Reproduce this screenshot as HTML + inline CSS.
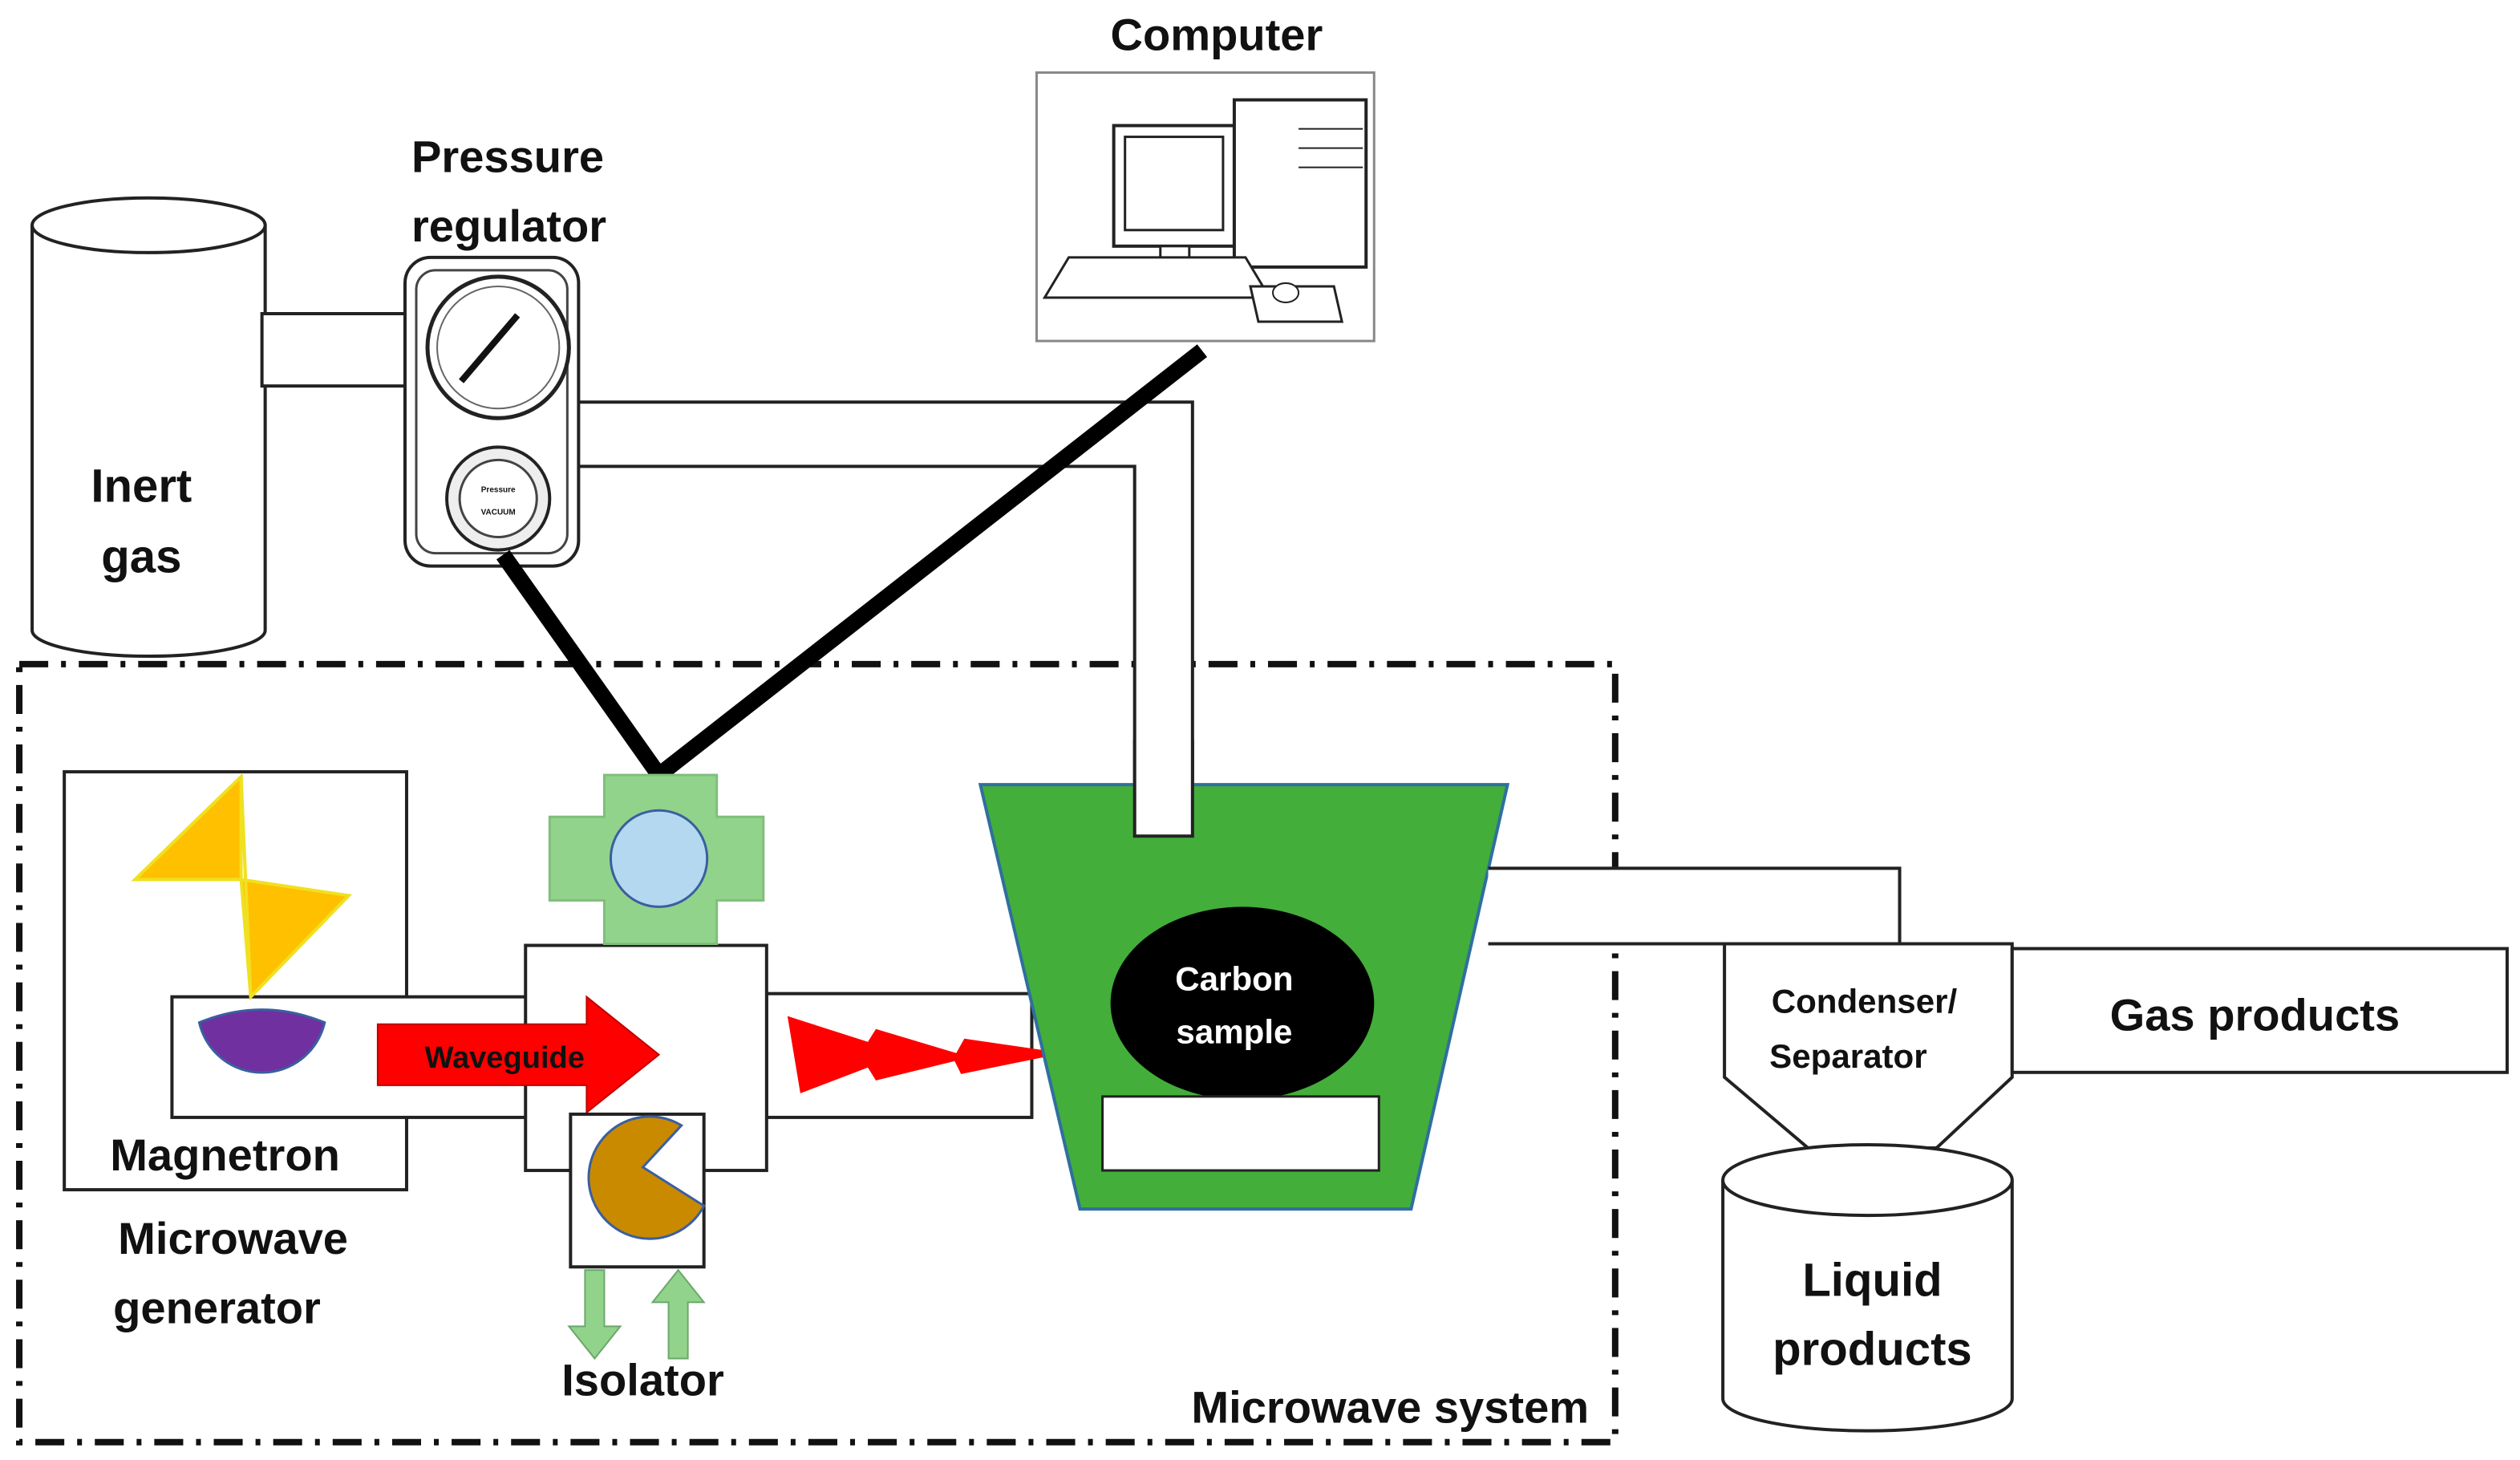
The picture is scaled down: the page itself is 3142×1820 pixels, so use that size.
<!DOCTYPE html>
<html><head><meta charset="utf-8"><style>
html,body{margin:0;padding:0;background:#fff;}
svg{display:block;}
text{font-family:"Liberation Sans",sans-serif;font-weight:bold;fill:#111;}
</style></head><body>
<svg width="3142" height="1820" viewBox="0 0 1568 908" xmlns="http://www.w3.org/2000/svg">
<rect x="12" y="413" width="993" height="484" fill="none" stroke="#111" stroke-width="4" stroke-dasharray="18,8,3,8"/>

<path d="M20,140 L20,392 A72,16 0 0 0 165,392 L165,140" fill="#fff" stroke="#222" stroke-width="2"/>
<ellipse cx="92.5" cy="140" rx="72.5" ry="17" fill="#fff" stroke="#222" stroke-width="2"/>
<text x="88" y="312" font-size="29" text-anchor="middle">Inert</text>
<text x="88" y="356" font-size="29" text-anchor="middle">gas</text>
<rect x="163" y="195" width="92" height="45" fill="#fff" stroke="#222" stroke-width="2"/>

<path d="M358,250 L742,250 L742,520 L706,520 L706,290 L358,290 Z" fill="#fff" stroke="#222" stroke-width="2"/>

<rect x="252" y="160" width="108" height="192" rx="16" fill="#fff" stroke="#222" stroke-width="2"/>
<rect x="259" y="168" width="94" height="176" rx="12" fill="none" stroke="#444" stroke-width="1.5"/>
<circle cx="310" cy="216" r="44" fill="#fff" stroke="#222" stroke-width="2.5"/>
<circle cx="310" cy="216" r="38" fill="none" stroke="#666" stroke-width="1"/>
<line x1="287" y1="237" x2="322" y2="196" stroke="#111" stroke-width="4"/>
<circle cx="310" cy="310" r="32" fill="#eee" stroke="#222" stroke-width="2"/>
<circle cx="310" cy="310" r="24" fill="#fff" stroke="#444" stroke-width="1.5"/>
<text x="310" y="306" font-size="5" text-anchor="middle" font-weight="normal">Pressure</text>
<text x="310" y="320" font-size="5" text-anchor="middle" font-weight="normal">VACUUM</text>
<text x="256" y="107" font-size="28">Pressure</text>
<text x="256" y="150" font-size="28">regulator</text>

<rect x="645" y="45" width="210" height="167" fill="#fff" stroke="#888" stroke-width="1.5"/>
<text x="757" y="31" font-size="28" text-anchor="middle">Computer</text>
<rect x="693" y="78" width="75" height="75" fill="#fff" stroke="#222" stroke-width="2"/>
<rect x="700" y="85" width="61" height="58" fill="#fff" stroke="#222" stroke-width="1.5"/>
<rect x="722" y="153" width="18" height="10" fill="#fff" stroke="#222" stroke-width="1.5"/>
<rect x="768" y="62" width="82" height="104" fill="#fff" stroke="#222" stroke-width="2"/>
<line x1="808" y1="80" x2="848" y2="80" stroke="#222"/><line x1="808" y1="92" x2="848" y2="92" stroke="#222"/><line x1="808" y1="104" x2="848" y2="104" stroke="#222"/>
<polygon points="665,160 775,160 790,185 650,185" fill="#fff" stroke="#222" stroke-width="1.5"/>
<polygon points="778,178 830,178 835,200 783,200" fill="#fff" stroke="#222" stroke-width="1.5"/>
<ellipse cx="800" cy="182" rx="8" ry="6" fill="#fff" stroke="#222"/>

<polyline points="313,345 410,482 748,218" fill="none" stroke="#000" stroke-width="10"/>

<rect x="40" y="480" width="213" height="260" fill="#fff" stroke="#222" stroke-width="2"/>
<rect x="107" y="620" width="225" height="75" fill="#fff" stroke="#222" stroke-width="2"/>
<rect x="477" y="618" width="165" height="77" fill="#fff" stroke="#222" stroke-width="2"/>
<rect x="327" y="588" width="150" height="140" fill="#fff" stroke="#222" stroke-width="2"/>
<polygon points="150,483 84,547 150,547" fill="#ffc000" stroke="#f0e020" stroke-width="2"/>
<polygon points="150,547 217,557 156,620" fill="#ffc000" stroke="#f0e020" stroke-width="2"/>
<line x1="150" y1="483" x2="156" y2="620" stroke="#f0e020" stroke-width="2"/>
<path d="M124,636 Q163,620 202,636 A40,40 0 0 1 124,636 Z" fill="#7030a0" stroke="#3a5fa0" stroke-width="1.5"/>
<text x="140" y="728" font-size="28" text-anchor="middle">Magnetron</text>
<text x="145" y="780" font-size="28" text-anchor="middle">Microwave</text>
<text x="135" y="823" font-size="28" text-anchor="middle">generator</text>

<polygon points="235,637 365,637 365,620 410,656 365,692 365,675 235,675" fill="#ff0000" stroke="#c00000" stroke-width="1"/>
<text x="314" y="664" font-size="19" text-anchor="middle">Waveguide</text>

<polygon points="376,482 446,482 446,508 475,508 475,560 446,560 446,587 376,587 376,560 342,560 342,508 376,508" fill="#92d38c" stroke="#7fbf7a" stroke-width="1.5"/>
<circle cx="410" cy="534" r="30" fill="#b4d8f0" stroke="#3a5fa0" stroke-width="1.5"/>

<rect x="355" y="693" width="83" height="95" fill="#fff" stroke="#222" stroke-width="2"/>
<path d="M400,726 L438,750 A38,38 0 1 1 424,700 Z" fill="#c98a00" stroke="#3a5fa0" stroke-width="1.5"/>
<polygon points="364,790 376,790 376,825 386,825 370,845 354,825 364,825" fill="#92d38c" stroke="#6aa86a"/>
<polygon points="416,845 428,845 428,810 438,810 422,790 406,810 416,810" fill="#92d38c" stroke="#6aa86a"/>
<text x="400" y="868" font-size="28" text-anchor="middle">Isolator</text>

<polygon points="490,632 540,648 545,640 595,655 600,646 662,655 598,668 594,660 545,672 540,664 498,680" fill="#ff0000"/>

<polygon points="610,488 938,488 878,752 672,752" fill="#43ae3a" stroke="#2f6fa0" stroke-width="2"/>
<path d="M706,460 L706,520 L742,520 L742,460" fill="#fff" stroke="#222" stroke-width="2"/>
<ellipse cx="773" cy="624" rx="82" ry="60" fill="#000"/>
<text x="768" y="616" font-size="21" text-anchor="middle" style="fill:#fff">Carbon</text>
<text x="768" y="649" font-size="21" text-anchor="middle" style="fill:#fff">sample</text>
<rect x="686" y="682" width="172" height="46" fill="#fff" stroke="#222" stroke-width="1.5"/>

<path d="M926,540 L1182,540 L1182,587 L926,587" fill="#fff" stroke="#222" stroke-width="2"/>

<text x="865" y="885" font-size="28" text-anchor="middle">Microwave system</text>

<polygon points="1073,587 1252,587 1252,670 1205,714 1125,714 1073,670" fill="#fff" stroke="#222" stroke-width="2"/>
<text x="1160" y="630" font-size="21" text-anchor="middle">Condenser/</text>
<text x="1150" y="664" font-size="21" text-anchor="middle">Separator</text>
<rect x="1252" y="590" width="308" height="77" fill="#fff" stroke="#222" stroke-width="2"/>
<text x="1403" y="641" font-size="28" text-anchor="middle">Gas products</text>

<path d="M1072,734 L1072,870 A90,20 0 0 0 1252,870 L1252,734" fill="#fff" stroke="#222" stroke-width="2"/>
<ellipse cx="1162" cy="734" rx="90" ry="22" fill="#fff" stroke="#222" stroke-width="2"/>
<text x="1165" y="806" font-size="29" text-anchor="middle">Liquid</text>
<text x="1165" y="849" font-size="29" text-anchor="middle">products</text>
</svg>
</body></html>
